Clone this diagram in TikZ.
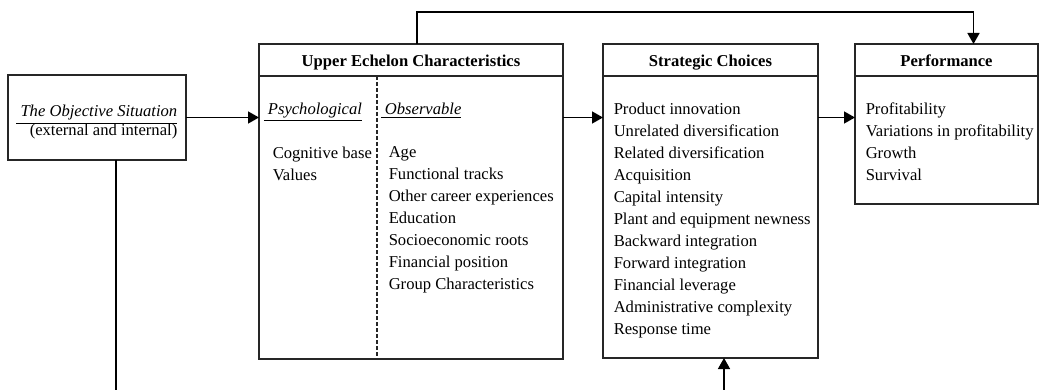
\documentclass[tikz,border=0pt]{standalone}
\usepackage{fontspec}
\setmainfont{Liberation Serif}
\usetikzlibrary{arrows.meta}
\usetikzlibrary{positioning}

\begin{document}
\begin{tikzpicture}[
    x=0.5pt, y=-0.5pt,
    >={Triangle[width=6pt, length=5.5pt]},
    line width=0.75pt,
    every node/.style = {
        font=\fontsize{8.3}{11}\selectfont
      },
    heading/.style = {
        rectangle,
        anchor=north west,
        minimum height=16pt,
        text height=7pt,
        text depth=0pt,
        inner sep=0pt,
        outer sep=0pt,
        draw=black!85,
        font=\fontsize{8.3}{11}\selectfont\bfseries
      },
    body/.style = {
        rectangle,
        inner sep=0pt,
        outer sep=0pt,
        draw=black!85,
      },
    list/.style = {
        anchor=north west,
        align=left,
        inner sep=0pt
      },
    ]
    \useasboundingbox (0,0) rectangle (1039,390);

    \node (objective) [body, anchor=north west, minimum width=89pt, minimum height=42.5pt] at (8,75) {};
    \node (objective text) [anchor=east, align=right, inner sep=0pt] at ([xshift=-4pt, yshift=-2.5pt]objective.east)
      {\underline{\ \textit{The Objective Situation}}\\[-1.5pt](external and internal)};

    \node (upper title) [heading, minimum width=152pt] at (259,44) {Upper Echelon Characteristics};
    \node (upper body) [body, below=0pt of upper title, minimum width=152pt, minimum height=141.5pt] {};
    \node (strategic title) [heading, minimum width=107.5pt] at (603,44) {Strategic Choices};
    \node (strategic body) [body, below=0pt of strategic title, minimum width=107.5pt, minimum height=141pt] {};
    \node (perf title) [heading, minimum width=91.5pt] at (855,44) {Performance};
    \node (perf body) [body, below=0pt of perf title, minimum width=91.5pt, minimum height=64pt] {};

    \node (psych) [list] at (263,102) {\underline{\ \textit{Psychological}}};
    \node (psych list) [list] at (272,146) {Cognitive base\\Values};
    \node (observ) [list] at (380,102) {\underline{\ \textit{Observable}}};
    \node (observ list) [list] at (388,146) {Age\\Functional tracks\\Other career experiences\\Education\\Socioeconomic roots\\Financial position\\Group Characteristics};
    \node (choices) [list] at (613,102) {Product innovation\\Unrelated diversification\\Related diversification\\Acquisition\\Capital intensity\\Plant and equipment newness\\Backward integration\\Forward integration\\Financial leverage\\Administrative complexity\\Response time};
    \node (outcomes) [list] at (865,102) {Profitability\\Variations in profitability\\Growth\\Survival};

    \coordinate (objective end) at (116,392);
    \coordinate (feedback start) at (724,392);

    \draw [black!85, dash pattern=on 1.8pt off 1.2pt] ([xshift=59pt]upper body.north west) -- ([xshift=59pt]upper body.south west);
    \draw [->] (objective.east) -- (objective.east -| upper body.west);
    \draw [->] (objective.east -| upper body.east) -- (objective.east -| strategic body.west);
    \draw [->] (objective.east -| strategic body.east) -- (objective.east -| perf body.west);
    \draw [->] ([xshift=3pt]upper title.north) -- ++(0,-32) -| ([xshift=13.5pt]perf title.north);
    \draw (objective.south -| objective end) -- (objective end);
    \draw [->] (feedback start) -- (feedback start |- strategic body.south);
  \end{tikzpicture}
\end{document}
